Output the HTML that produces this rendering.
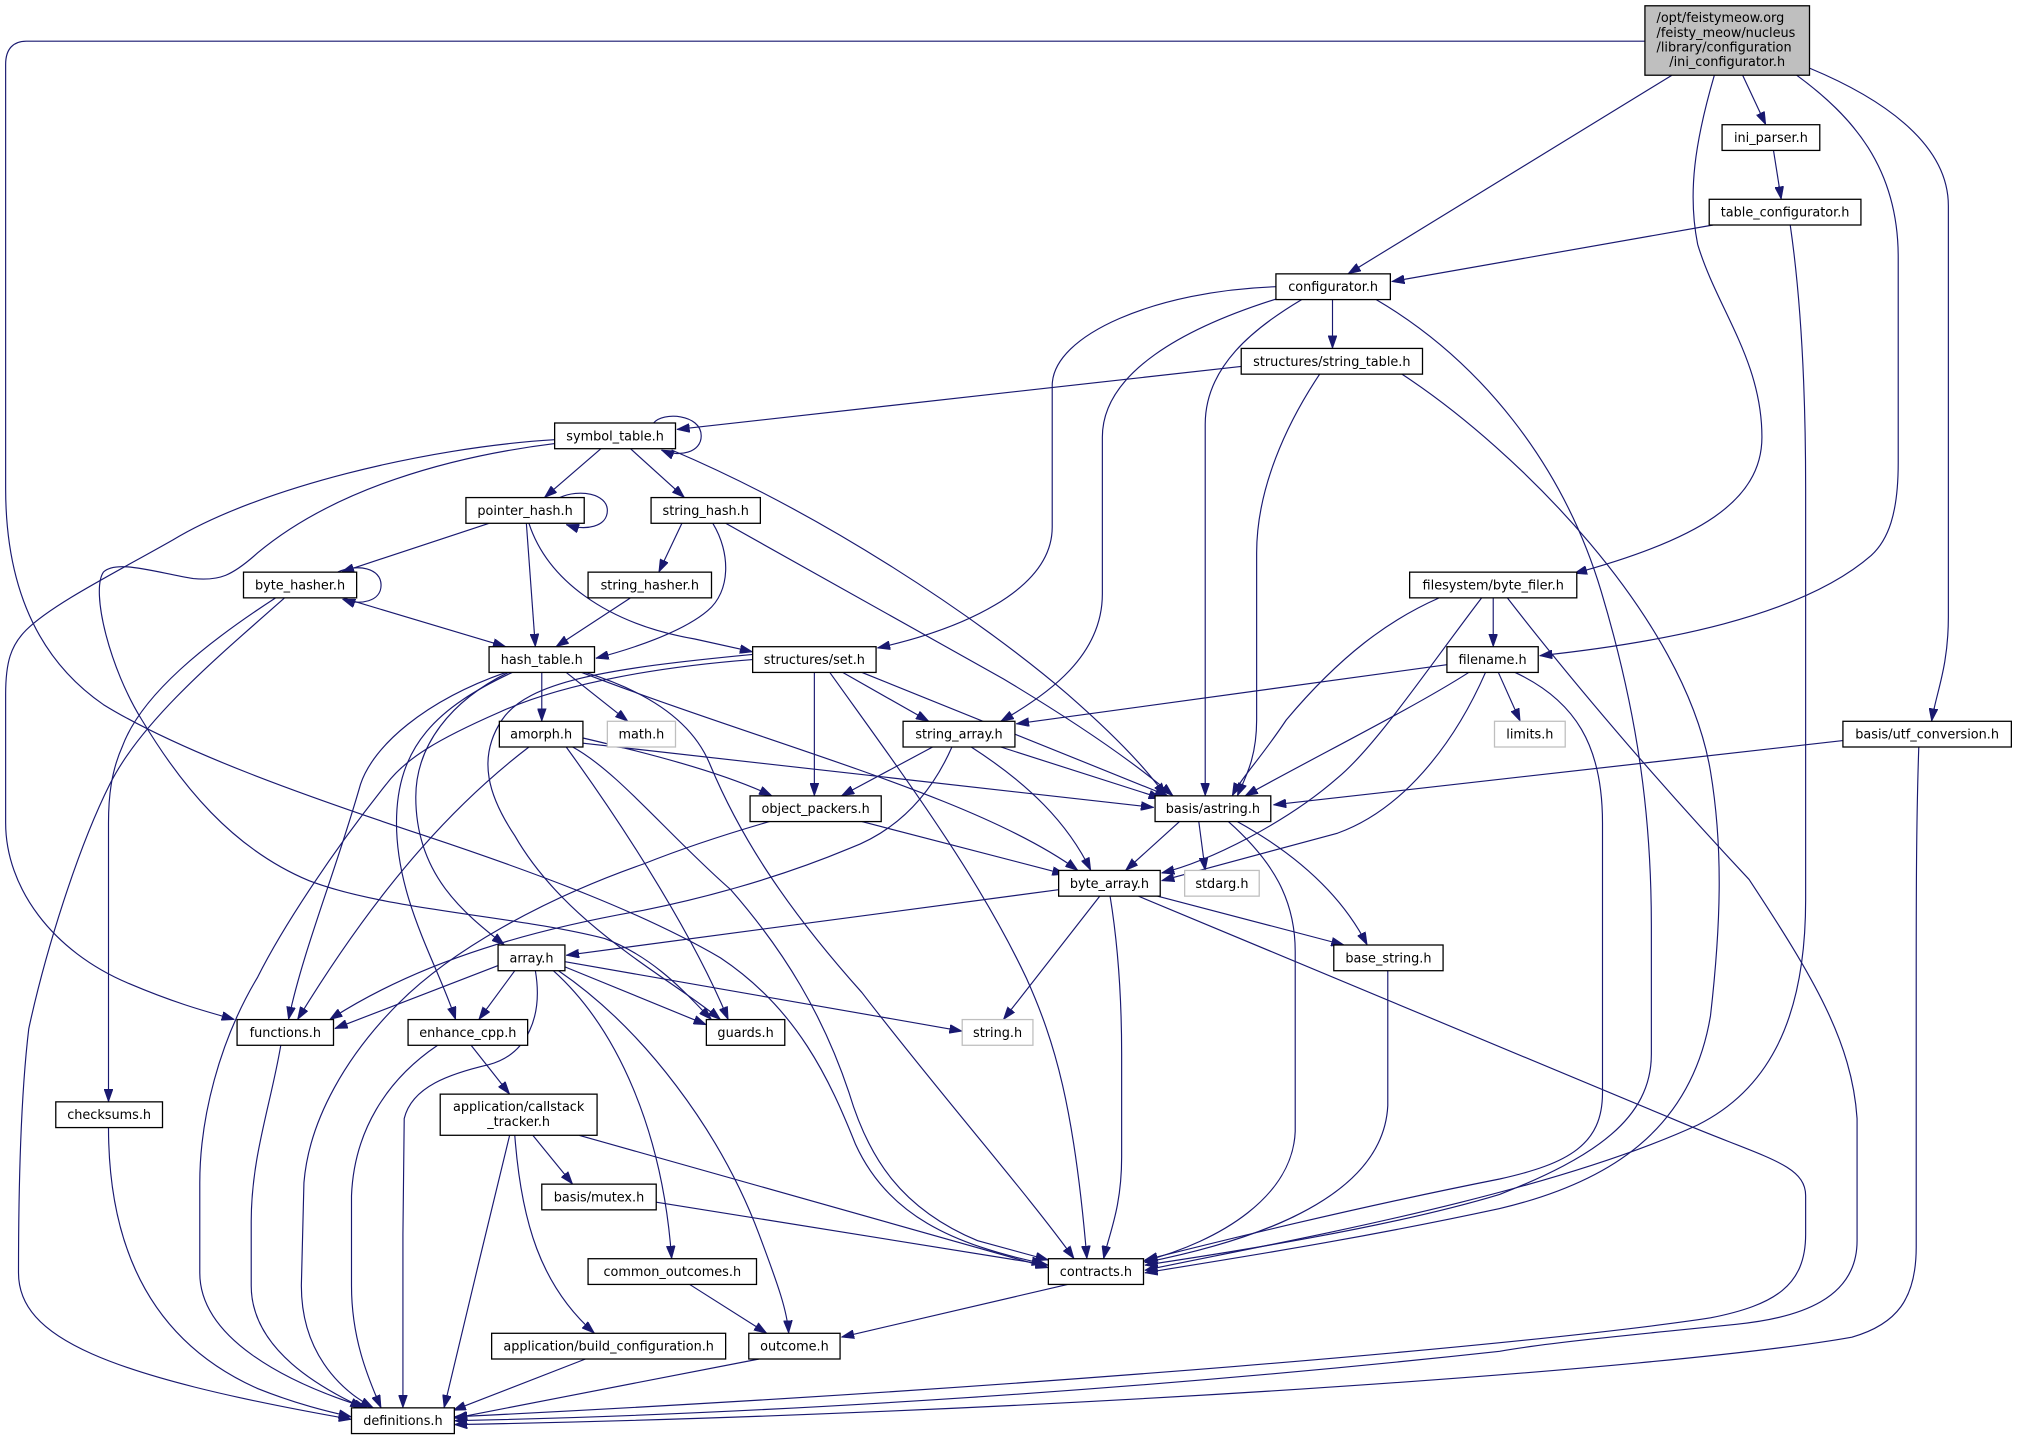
<!DOCTYPE html>
<html><head><meta charset="utf-8"><style>
html,body{margin:0;padding:0;background:#fff;}
svg{display:block;}
text{font-family:"DejaVu Sans","Liberation Sans",sans-serif;font-size:10px;fill:#000;}
.e{fill:none;stroke:#191970;stroke-width:0.9;marker-end:url(#a);}
.n{fill:#fff;stroke:#000;stroke-width:1;}
.g{fill:#fff;stroke:#bfbfbf;stroke-width:1;}
</style></head><body>
<svg width="2017" height="1440" viewBox="0 0 1568 1120" xmlns="http://www.w3.org/2000/svg">
<defs><marker id="a" viewBox="0 0 10 7" refX="10" refY="3.5" markerWidth="10" markerHeight="7" markerUnits="userSpaceOnUse" orient="auto"><path d="M0,0 L10,3.5 L0,7 z" fill="#191970" stroke="#191970" stroke-width="0.5"/></marker></defs>
<rect width="1568" height="1120" fill="#fff"/>
<g>
<path class="e" d="M1355,58.5 L1373,97"/>
<path class="e" d="M1300,58.5 L1048,213"/>
<path class="e" d="M1333,58.5 C1318,110 1312,150 1320,190 C1335,240 1370,280 1370,340 C1370,390 1320,420 1224,446"/>
<path class="e" d="M1397,58.5 C1440,90 1476,130 1476,200 L1476,360 C1476,400 1468,420 1455,432 C1400,480 1290,500 1197,510"/>
<path class="e" d="M1407,53 C1460,75 1515,110 1515,160 L1515,480 C1515,520 1505,540 1502,561"/>
<path class="e" d="M1279,32 L20,32 C10,32 4,38 4,50 L4,380 C4,450 25,510 80,548 C140,585 240,620 330,650 C420,680 500,710 560,745 C620,785 645,840 665,890 C690,945 740,968 812,983"/>
<path class="e" d="M1379,117 L1385,155"/>
<path class="e" d="M1332,175 L1082,219"/>
<path class="e" d="M1392,175 C1400,230 1404,300 1404,380 L1404,700 C1404,800 1370,850 1320,875 C1200,930 1000,965 890,988"/>
<path class="e" d="M1036,233 L1036,271"/>
<path class="e" d="M992,223 C900,226 818,260 818,300 L818,410 C818,460 745,490 682,504"/>
<path class="e" d="M994,232 C920,255 857,290 857,340 L857,462 C857,510 815,540 778,561"/>
<path class="e" d="M1012,233 C975,255 937,285 937,330 L937,619"/>
<path class="e" d="M1070,233 C1150,280 1215,360 1245,460 C1275,560 1284,640 1284,720 L1284,820 C1284,870 1240,900 1166,929 C1080,955 950,975 890,984"/>
<path class="e" d="M965,285 L526,334"/>
<path class="e" d="M1026,291 C1000,330 977,380 977,430 L977,560 C977,590 968,605 962,619"/>
<path class="e" d="M1090,291 C1180,350 1310,480 1330,600 C1340,660 1338,720 1330,790 C1315,880 1250,920 1166,940 C1050,965 950,980 890,990"/>
<path class="e" d="M508,329 C515,320 545,322 545,339 C545,352 528,356 514,350"/>
<path class="e" d="M467,349 L423,387"/>
<path class="e" d="M490,349 L532,387"/>
<path class="e" d="M522,350 C640,400 760,480 830,540 C870,575 893,600 906,619"/>
<path class="e" d="M431,342 C330,348 200,380 134,420 C90,445 40,470 20,490 C8,502 4,515 4,540 L4,640 C4,690 40,740 100,765 C140,782 165,788 182,793"/>
<path class="e" d="M431,345 C350,355 260,380 200,430 C180,448 170,452 150,450 C120,445 90,435 80,445 C70,460 85,520 110,560 C140,610 180,660 240,685 C300,708 400,712 470,730 C510,745 535,775 553,793"/>
<path class="e" d="M435,387 C450,380 472,384 472,397 C472,410 455,413 440,408"/>
<path class="e" d="M380,407 L265,445"/>
<path class="e" d="M409,407 L416,503"/>
<path class="e" d="M411,407 C425,450 470,485 540,497 L585,507"/>
<path class="e" d="M530,407 L512,445"/>
<path class="e" d="M554,407 C568,430 568,460 550,475 C530,492 490,505 463,512"/>
<path class="e" d="M564,407 L780,528 C850,570 890,600 912,619"/>
<path class="e" d="M490,465 L432,503"/>
<path class="e" d="M262,445 C278,438 296,442 296,455 C296,468 280,471 266,466"/>
<path class="e" d="M266,465 L393,503"/>
<path class="e" d="M214,465 C160,500 110,540 95,580 C86,600 84,620 84,640 L84,857"/>
<path class="e" d="M221,465 C170,510 110,560 85,610 C60,660 35,740 22,800 C16,850 14,920 14,990 C14,1040 80,1070 273,1104"/>
<path class="e" d="M421,523 L421,561"/>
<path class="e" d="M440,523 L488,561"/>
<path class="e" d="M395,523 C350,545 323,580 323,620 C323,680 360,710 392,735"/>
<path class="e" d="M452,523 C600,580 760,620 838,677"/>
<path class="e" d="M393,523 C330,545 290,580 280,610 C260,680 235,740 224,793"/>
<path class="e" d="M398,523 C340,550 308,580 308,640 C308,700 340,750 354,793"/>
<path class="e" d="M455,523 C510,540 540,565 552,595 C575,650 610,705 670,772 C730,850 800,930 835,979"/>
<path class="e" d="M655,523 L722,561"/>
<path class="e" d="M633,523 L633,619"/>
<path class="e" d="M670,523 L908,619"/>
<path class="e" d="M645,523 C700,600 760,680 798,761 C820,810 835,860 845,979"/>
<path class="e" d="M585,513 C520,518 440,530 388,554 C340,575 315,590 300,610 C260,660 220,720 200,760 C170,810 155,870 155,920 L155,990 C155,1040 220,1075 285,1095"/>
<path class="e" d="M585,509 C470,520 410,530 390,560 C370,590 380,620 400,650 C440,720 520,760 560,793"/>
<path class="e" d="M725,581 L654,619"/>
<path class="e" d="M778,581 L903,621"/>
<path class="e" d="M755,581 C800,610 830,640 848,677"/>
<path class="e" d="M740,581 C725,615 700,645 660,660 C600,685 540,700 500,708 C420,722 330,745 256,793"/>
<path class="e" d="M453,574 C500,585 560,600 600,619"/>
<path class="e" d="M453,578 L897,628"/>
<path class="e" d="M411,581 C360,620 300,680 231,793"/>
<path class="e" d="M440,581 C490,650 540,730 566,793"/>
<path class="e" d="M445,581 C480,600 520,650 568,692 C610,740 640,790 660,850 C675,900 700,940 760,965 L815,980"/>
<path class="e" d="M670,639 L828,680"/>
<path class="e" d="M598,639 C560,650 530,660 500,672 C420,700 350,740 310,780 C270,820 240,870 236,920 L234,1000 C234,1050 262,1080 290,1095"/>
<path class="e" d="M1125,517 L790,563"/>
<path class="e" d="M1142,523 C1100,550 1020,590 968,619"/>
<path class="e" d="M1165,523 L1182,561"/>
<path class="e" d="M1155,523 C1130,580 1090,630 1040,648 L903,685"/>
<path class="e" d="M1178,523 C1225,545 1246,580 1246,640 L1246,850 C1246,890 1220,905 1166,917 C1050,940 950,965 890,980"/>
<path class="e" d="M1161,465 L1161,503"/>
<path class="e" d="M1119,465 C1080,482 1042,510 1000,560 C980,590 965,605 958,619"/>
<path class="e" d="M1152,465 C1110,520 1070,580 1040,605 C1000,640 940,670 903,679"/>
<path class="e" d="M1172,465 C1230,540 1300,620 1360,684 C1410,760 1440,810 1444,870 L1444,965 C1444,1010 1400,1025 1350,1030 C1250,1040 1200,1045 1166,1051 C900,1080 600,1100 353,1105"/>
<path class="e" d="M1433,576 L990,626"/>
<path class="e" d="M1492,581 C1490,640 1490,700 1490,760 L1490,970 C1490,1010 1475,1030 1440,1040 C1300,1065 800,1100 353,1108"/>
<path class="e" d="M917,639 L875,677"/>
<path class="e" d="M932,639 L937,677"/>
<path class="e" d="M962,639 C1000,660 1040,690 1063,735"/>
<path class="e" d="M955,639 C990,670 1007,700 1007,740 L1007,880 C1005,930 950,965 889,981"/>
<path class="e" d="M823,692 L440,743"/>
<path class="e" d="M900,697 L1045,735"/>
<path class="e" d="M855,697 L780,793"/>
<path class="e" d="M863,697 C870,740 872,780 872,820 L872,900 C872,940 862,960 858,979"/>
<path class="e" d="M885,697 L1300,870 C1370,900 1404,905 1404,930 L1404,960 C1404,1000 1380,1015 1330,1025 C1200,1045 800,1080 353,1102"/>
<path class="e" d="M1079,755 L1079,860 C1075,940 950,970 890,982"/>
<path class="e" d="M387,751 L260,800"/>
<path class="e" d="M400,755 L372,793"/>
<path class="e" d="M439,752 L549,797"/>
<path class="e" d="M439,748 L748,802"/>
<path class="e" d="M416,755 C422,790 410,820 380,828 C350,835 320,845 314,870 L313,960 C313,1010 313,1060 313,1095"/>
<path class="e" d="M430,755 C480,800 515,880 522,979"/>
<path class="e" d="M434,755 C500,800 560,880 590,960 C605,1000 612,1020 613,1037"/>
<path class="e" d="M366,813 L396,851"/>
<path class="e" d="M340,813 C300,840 275,880 273,930 L273,1000 C273,1040 285,1070 296,1095"/>
<path class="e" d="M414,883 L445,921"/>
<path class="e" d="M450,883 L815,986"/>
<path class="e" d="M396,883 C380,950 360,1030 345,1095"/>
<path class="e" d="M400,883 C405,950 420,1000 462,1037"/>
<path class="e" d="M510,935 L815,984"/>
<path class="e" d="M830,999 L654,1040"/>
<path class="e" d="M536,999 L596,1037"/>
<path class="e" d="M455,1057 L352,1097"/>
<path class="e" d="M590,1057 L353,1103"/>
<path class="e" d="M84,877 C84,960 110,1040 200,1080 C230,1092 255,1098 273,1102"/>
<path class="e" d="M218,813 C210,860 195,900 195,950 L195,1000 C195,1050 250,1080 282,1095"/>
</g>
<g>
<rect x="1279" y="4.5" width="128" height="54" fill="#bfbfbf" stroke="#000" stroke-width="1"/>
<text x="1288" y="17.2">/opt/feistymeow.org</text>
<text x="1288" y="28.6">/feisty_meow/nucleus</text>
<text x="1288" y="40">/library/configuration</text>
<text x="1343" y="51.4" text-anchor="middle">/ini_configurator.h</text>

<rect class="n" x="1339" y="97" width="76" height="20"/><text x="1377" y="110.5" text-anchor="middle">ini_parser.h</text>
<rect class="n" x="1329" y="155" width="118" height="20"/><text x="1388" y="168.5" text-anchor="middle">table_configurator.h</text>
<rect class="n" x="992" y="213" width="89" height="20"/><text x="1036.5" y="226.5" text-anchor="middle">configurator.h</text>
<rect class="n" x="965" y="271" width="141" height="20"/><text x="1035.5" y="284.5" text-anchor="middle">structures/string_table.h</text>
<rect class="n" x="431" y="329" width="94" height="20"/><text x="478" y="342.5" text-anchor="middle">symbol_table.h</text>
<rect class="n" x="362" y="387" width="92" height="20"/><text x="408" y="400.5" text-anchor="middle">pointer_hash.h</text>
<rect class="n" x="506" y="387" width="85" height="20"/><text x="548.5" y="400.5" text-anchor="middle">string_hash.h</text>
<rect class="n" x="189" y="445" width="88" height="20"/><text x="233" y="458.5" text-anchor="middle">byte_hasher.h</text>
<rect class="n" x="457" y="445" width="96" height="20"/><text x="505" y="458.5" text-anchor="middle">string_hasher.h</text>
<rect class="n" x="380" y="503" width="82" height="20"/><text x="421" y="516.5" text-anchor="middle">hash_table.h</text>
<rect class="n" x="585" y="503" width="96" height="20"/><text x="633" y="516.5" text-anchor="middle">structures/set.h</text>
<rect class="n" x="1096" y="445" width="130" height="20"/><text x="1161" y="458.5" text-anchor="middle">filesystem/byte_filer.h</text>
<rect class="n" x="1125" y="503" width="71" height="20"/><text x="1160.5" y="516.5" text-anchor="middle">filename.h</text>
<rect class="g" x="1162" y="561" width="55" height="20"/><text x="1189.5" y="574.5" text-anchor="middle">limits.h</text>
<rect class="n" x="1433" y="561" width="131" height="20"/><text x="1498.5" y="574.5" text-anchor="middle">basis/utf_conversion.h</text>
<rect class="n" x="388" y="561" width="65" height="20"/><text x="420.5" y="574.5" text-anchor="middle">amorph.h</text>
<rect class="g" x="472" y="561" width="53" height="20"/><text x="498.5" y="574.5" text-anchor="middle">math.h</text>
<rect class="n" x="702" y="561" width="87" height="20"/><text x="745.5" y="574.5" text-anchor="middle">string_array.h</text>
<rect class="n" x="898" y="619" width="90" height="20"/><text x="943" y="632.5" text-anchor="middle">basis/astring.h</text>
<rect class="n" x="583" y="619" width="102" height="20"/><text x="634" y="632.5" text-anchor="middle">object_packers.h</text>
<rect class="n" x="823" y="677" width="79" height="20"/><text x="862.5" y="690.5" text-anchor="middle">byte_array.h</text>
<rect class="g" x="921" y="677" width="58" height="20"/><text x="950" y="690.5" text-anchor="middle">stdarg.h</text>
<rect class="n" x="387" y="735" width="52" height="20"/><text x="413" y="748.5" text-anchor="middle">array.h</text>
<rect class="n" x="1037" y="735" width="85" height="20"/><text x="1079.5" y="748.5" text-anchor="middle">base_string.h</text>
<rect class="n" x="184" y="793" width="75" height="20"/><text x="221.5" y="806.5" text-anchor="middle">functions.h</text>
<rect class="n" x="317" y="793" width="93" height="20"/><text x="363.5" y="806.5" text-anchor="middle">enhance_cpp.h</text>
<rect class="n" x="549" y="793" width="61" height="20"/><text x="579.5" y="806.5" text-anchor="middle">guards.h</text>
<rect class="g" x="748" y="793" width="55" height="20"/><text x="775.5" y="806.5" text-anchor="middle">string.h</text>
<rect class="n" x="43" y="857" width="83" height="20"/><text x="84.5" y="870.5" text-anchor="middle">checksums.h</text>
<rect class="n" x="342" y="851" width="122" height="32"/><text x="403" y="864" text-anchor="middle">application/callstack</text><text x="403" y="875.6" text-anchor="middle">_tracker.h</text>
<rect class="n" x="421" y="921" width="89" height="20"/><text x="465.5" y="934.5" text-anchor="middle">basis/mutex.h</text>
<rect class="n" x="815" y="979" width="74" height="20"/><text x="852" y="992.5" text-anchor="middle">contracts.h</text>
<rect class="n" x="457" y="979" width="131" height="20"/><text x="522.5" y="992.5" text-anchor="middle">common_outcomes.h</text>
<rect class="n" x="382" y="1037" width="182" height="20"/><text x="473" y="1050.5" text-anchor="middle">application/build_configuration.h</text>
<rect class="n" x="582" y="1037" width="71" height="20"/><text x="617.5" y="1050.5" text-anchor="middle">outcome.h</text>
<rect class="n" x="273" y="1095" width="80" height="20"/><text x="313" y="1108.5" text-anchor="middle">definitions.h</text>
</g>
</svg>
</body></html>
